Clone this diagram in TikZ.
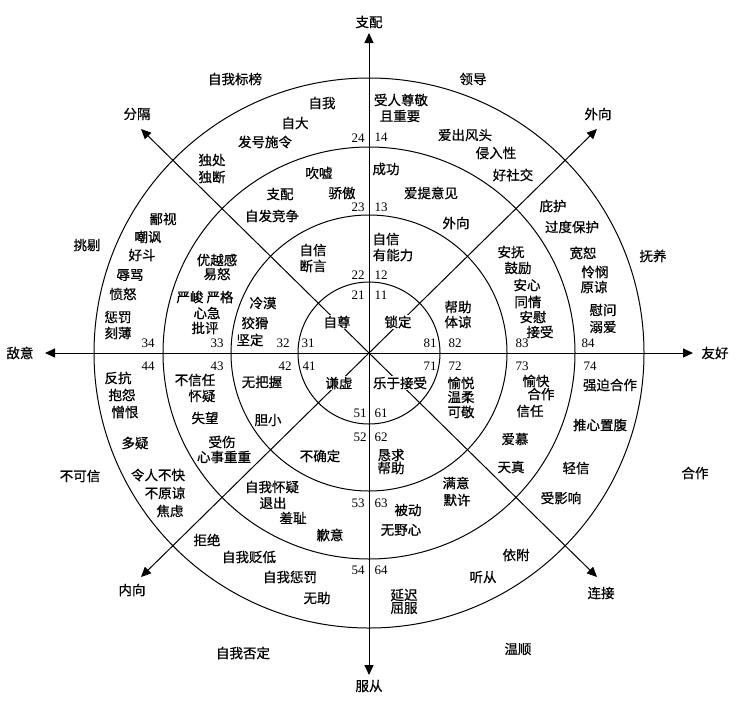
\documentclass[tikz,border=0pt]{standalone}
\usepackage{fontspec}
\setmainfont{Liberation Serif}
\newfontfamily\cjk[FakeBold=0.6]{Noto Sans CJK SC}
\usetikzlibrary{arrows.meta}
\tikzset{
  axisline/.style={line width=1pt,{Triangle[length=10pt,width=9pt]}-{Triangle[length=10pt,width=9pt]}},
  ring/.style={line width=1pt},
  lbl/.style={font=\cjk\fontsize{13.5}{14}\selectfont,inner sep=0.5pt},
  axlbl/.style={font=\cjk\fontsize{13.5}{14}\selectfont,inner sep=0.5pt},
  ctr/.style={lbl,fill=white,inner sep=1pt},
  num/.style={font=\fontsize{13}{14}\selectfont,inner sep=0.5pt},
}
\begin{document}
\begin{tikzpicture}[x=1pt,y=-1pt]
\useasboundingbox (0,0) rectangle (738,702);
\fill[white] (0,0) rectangle (738,702);
\coordinate (C) at (369,353);
\coordinate (N) at (369,33);
\coordinate (S) at (369,675);
\coordinate (W) at (45,353);
\coordinate (E) at (693,353);
\coordinate (NW) at (141,129);
\coordinate (SE) at (597,577);
\coordinate (NE) at (597,129);
\coordinate (SW) at (141,577);
% rings
\foreach \r/\n in {71/ringA,138/ringB,206/ringC,275/ringD}
  \draw[ring] (C) circle[radius=\r];
% axes
\draw[axisline] (N) -- (S);
\draw[axisline] (W) -- (E);
\draw[axisline] (NW) -- (SE);
\draw[axisline] (NE) -- (SW);
% axis labels
\node[axlbl] (lN) at (369,22) {支配};
\node[axlbl] (lS) at (369,686) {服从};
\node[axlbl] (lW) at (20,353) {敌意};
\node[axlbl] (lE) at (715,353) {友好};
\node[axlbl] (lNW) at (137,114) {分隔};
\node[axlbl] (lNE) at (598,114) {外向};
\node[axlbl] (lSW) at (132,590) {内向};
\node[axlbl] (lSE) at (601,593) {连接};
% centre labels
\node[ctr] (c1) at (337,322) {自尊};
\node[ctr] (c2) at (398,322) {锁定};
\node[ctr] (c3) at (339,383) {谦虚};
\node[ctr] (c4) at (400,383) {乐于接受};
% labels
\foreach \x/\y/\t [count=\i] in {
235/79/自我标榜, 322/103/自我, 295/123/自大, 265/142/发号施令,
212/160/独处, 212/177/独断, 319/173/吹嘘, 342/193/骄傲,
280/194/支配, 272/216/自发竞争, 163/219/鄙视, 148/237/嘲讽,
142/255/好斗, 87/245/挑剔, 130/275/辱骂, 123/294/愤怒,
118/317/惩罚, 118/333/刻薄, 217/260/优越感, 217/274/易怒,
205/297/{严峻 严格}, 207/313/心急, 205/328/批评,
313/250/自信, 313/266/断言, 263/303/冷漠, 255/323/狡猾, 250/340/坚定,
473/79/领导, 401/100/受人尊敬, 400/116/且重要, 465/135/爱出风头,
496/153/侵入性, 513/175/好社交, 386/169/成功, 431/193/爱提意见,
456/223/外向, 553/206/庇护, 572/227/过度保护, 386/239/自信, 393/255/有能力,
458/307/帮助, 458/322/体谅, 511/252/安抚, 518/268/鼓励, 527/285/安心,
528/302/同情, 533/317/安慰, 540/332/接受, 583/253/宽恕, 595/272/怜悯,
594/287/原谅, 603/310/慰问, 603/327/溺爱, 653/256/抚养,
118/378/反抗, 122/395/抱怨, 125/412/憎恨, 195/380/不信任, 202/396/怀疑,
262/382/无把握, 205/418/失望, 268/420/胆小, 135/443/多疑, 222/442/受伤,
224/457/心事重重, 320/456/不确定, 80/476/不可信, 158/475/令人不快,
165/493/不原谅, 170/511/焦虑, 272/487/自我怀疑, 273/503/退出, 293/518/羞耻,
330/535/歉意, 207/540/拒绝, 249/557/自我贬低, 290/577/自我惩罚, 317/598/无助,
243/653/自我否定,
461/383/愉悦, 461/397/温柔, 461/412/可敬, 536/381/愉快, 541/394/合作,
610/385/强迫合作, 530/411/信任, 600/425/推心置腹, 515/439/爱慕,
391/455/恳求, 391/468/帮助, 511/467/天真, 576/468/轻信, 695/473/合作,
456/483/满意, 457/500/默许, 561/498/受影响, 408/510/被动, 401/530/无野心,
516/555/依附, 483/577/听从, 404/595/延迟, 404/608/屈服, 518/649/温顺}
  \node[lbl] (t\i) at (\x,\y) {\t};
% numbers
\foreach \x/\y/\t in {
358/138/24, 381/137/14, 358/207/23, 381/207/13, 358/275/22, 381/275/12,
358/295/21, 381/295/11, 148/343/34, 217/343/33, 283/343/32, 308/343/31,
430/343/81, 455/343/82, 522/343/83, 588/343/84,
148/366/44, 217/366/43, 285/366/42, 309/366/41,
430/366/71, 455/366/72, 522/366/73, 590/366/74,
360/413/51, 381/413/61, 360/437/52, 381/437/62,
358/503/53, 381/503/63, 358/570/54, 381/570/64}
  \node[num] (n\t) at (\x,\y) {\t};
\end{tikzpicture}
\end{document}
